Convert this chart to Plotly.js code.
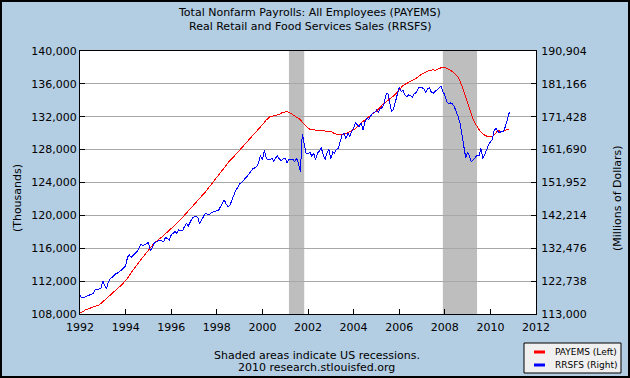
<!DOCTYPE html>
<html>
<head>
<meta charset="utf-8">
<script src="https://cdn.plot.ly/plotly-3.0.1.min.js"></script>
<style>
html,body{margin:0;padding:0;background:#b3cde3;}
#wrap{position:relative;width:630px;height:378px;}
#chart{width:630px;height:378px;}
#frame{position:absolute;left:0;top:0;width:626px;height:374px;border:2px solid #000;pointer-events:none;}
.scatterlayer path.js-line{shape-rendering:crispEdges;}
</style>
</head>
<body>
<div id="wrap"><div id="chart"></div><div id="frame"></div></div>
<script>
// Monthly data, Jan 1992 .. Nov 2010
const startYear = 1992;
const payems = [
108100,108200,108350,108520,108600,108660,108720,108790,108870,108980,109100,109280,
109480,109700,109900,110100,110300,110500,110700,110900,111100,111350,111550,111800,
112050,112350,112700,113050,113400,113700,114000,114300,114600,114900,115200,115500,
115750,116050,116350,116600,116800,116950,117150,117350,117550,117750,117950,118150,
118350,118550,118800,119000,119250,119500,119750,120000,120250,120500,120800,121100,
121300,121500,121750,122000,122250,122550,122850,123150,123450,123750,124050,124350,
124650,124900,125200,125550,125850,126150,126450,126700,126900,127150,127400,127700,
128000,128250,128500,128750,129000,129250,129500,129750,129950,130200,130450,130750,
131050,131300,131600,131850,132000,132050,132100,132150,132200,132300,132450,132550,
132600,132600,132550,132400,132250,132100,131950,131850,131650,131350,131050,130800,
130600,130480,130430,130400,130380,130350,130320,130300,130280,130300,130250,130200,
130200,130100,129950,129900,129880,129860,129850,129880,129950,130050,130150,130250,
130400,130550,130800,131050,131300,131450,131600,131800,132000,132250,132400,132550,
132700,132900,133100,133400,133600,133800,134050,134250,134350,134500,134800,135050,
135300,135550,135800,135950,136050,136150,136300,136450,136550,136650,136850,137050,
137200,137300,137450,137550,137650,137700,137700,137650,137750,137850,137950,138050,
138000,137900,137800,137650,137500,137300,137100,136800,136350,135800,135100,134400,
133650,132950,132250,131600,131200,130750,130450,130150,129900,129750,129650,129580,
129600,129580,129750,130050,130350,130200,130150,130250,130350,130450,130550
];
const rrsfs = [
118500,117700,117900,118100,118300,118600,118700,119100,120300,120300,120400,120700,
122700,121500,120400,122600,123500,123900,124600,125000,125200,125600,126100,126700,
127200,129900,130500,129800,130300,130900,131500,132400,133600,133300,133500,133800,
134200,131800,132500,133900,134300,134600,134900,134700,134400,135700,135300,134900,
136400,137000,137400,136900,137900,137800,137700,138900,139800,139100,140300,141300,
141800,141900,141600,139700,140800,142000,142900,142500,142400,143000,143200,143300,
143500,143800,144800,145800,146800,145500,144800,145300,146800,147800,149700,150400,
151600,151900,152700,153200,153700,154700,155300,156000,156300,156600,157700,159900,
158600,161600,159300,158600,158700,159100,158300,159300,159800,158800,158400,159000,
159100,157700,158900,158800,158800,158200,159100,157600,155200,166400,163300,160600,
160400,161000,159700,160600,158800,160600,161300,162300,160100,158800,160600,161800,
158900,161000,160600,161800,162100,164000,166000,166600,165000,166500,165600,167000,
168000,169900,169000,168500,169500,167500,170000,170900,170700,171700,172500,172600,
173400,172700,173700,174100,175000,177900,178500,175800,172900,173600,175900,177800,
180300,178900,179300,177900,177400,177900,177700,177200,178400,178500,179900,180200,
180000,179800,178600,179700,180100,178600,178400,178900,179400,180000,180500,178900,
177900,175900,175400,175500,175300,174400,173000,171500,169500,166000,162500,159300,
160800,159700,158000,158600,159200,160000,159800,162200,159000,160600,161600,163100,
163800,164800,167400,168000,167000,166700,167200,167200,168700,171000,172800
];
const recessionStarts = ['2001-03-01', '2007-12-01'];
const recessionEnds   = ['2001-11-01', '2009-06-01'];
const titleLines = ['Total Nonfarm Payrolls: All Employees (PAYEMS)', 'Real Retail and Food Services Sales (RRSFS)'];
const legendLabels = ['PAYEMS (Left)', 'RRSFS (Right)'];
const seriesColors = ['#ff0000', '#0000ff'];

function monthDates(n) {
  const out = [];
  for (let i = 0; i < n; i++) {
    const y = startYear + Math.floor(i / 12);
    const m = (i % 12) + 1;
    out.push(y + '-' + (m < 10 ? '0' + m : m) + '-01');
  }
  return out;
}
const dates = monthDates(payems.length);

const FONT = 'DejaVu Sans, Verdana, sans-serif';

const traces = [
  {x: dates, y: payems, type: 'scatter', mode: 'lines', yaxis: 'y',
   line: {color: seriesColors[0], width: 1}, showlegend: false, hoverinfo: 'skip'},
  {x: dates, y: rrsfs, type: 'scatter', mode: 'lines', yaxis: 'y2',
   line: {color: seriesColors[1], width: 1}, showlegend: false, hoverinfo: 'skip'}
];

const shapes = recessionStarts.map((s, i) => ({
  type: 'rect', xref: 'x', yref: 'paper', x0: s, x1: recessionEnds[i], y0: 0, y1: 1,
  fillcolor: '#bebebe', line: {width: 0}, layer: 'below'
}));
// legend box
shapes.push({type: 'rect', xref: 'paper', yref: 'paper', x0: 0.9737, x1: 1.1864, y0: -0.2243, y1: -0.1103,
  fillcolor: '#f0f0f0', line: {color: '#000', width: 1}});
shapes.push({type: 'line', xref: 'paper', yref: 'paper', x0: 0.9956, x1: 1.0197, y0: -0.1445, y1: -0.1445,
  line: {color: seriesColors[0], width: 3}});
shapes.push({type: 'line', xref: 'paper', yref: 'paper', x0: 0.9956, x1: 1.0197, y0: -0.1939, y1: -0.1939,
  line: {color: seriesColors[1], width: 3}});

const annotations = [
  {text: titleLines[0], xref: 'paper', yref: 'paper', x: 0.504, y: 1.1445, showarrow: false,
   font: {family: FONT, size: 11, color: '#000'}, xanchor: 'center', yanchor: 'middle'},
  {text: titleLines[1], xref: 'paper', yref: 'paper', x: 0.504, y: 1.0913, showarrow: false,
   font: {family: FONT, size: 11, color: '#000'}, xanchor: 'center', yanchor: 'middle'},
  {text: '(Thousands)', xref: 'paper', yref: 'paper', x: -0.138, y: 0.441, showarrow: false, textangle: -90,
   font: {family: FONT, size: 11, color: '#000'}, xanchor: 'center', yanchor: 'middle'},
  {text: '(Millions of Dollars)', xref: 'paper', yref: 'paper', x: 1.1776, y: 0.441, showarrow: false, textangle: -90,
   font: {family: FONT, size: 11, color: '#000'}, xanchor: 'center', yanchor: 'middle'},
  {text: 'Shaded areas indicate US recessions.', xref: 'paper', yref: 'paper', x: 0.5197, y: -0.156, showarrow: false,
   font: {family: FONT, size: 11, color: '#000'}, xanchor: 'center', yanchor: 'middle'},
  {text: '2010 research.stlouisfed.org', xref: 'paper', yref: 'paper', x: 0.5197, y: -0.205, showarrow: false,
   font: {family: FONT, size: 11, color: '#000'}, xanchor: 'center', yanchor: 'middle'},
  {text: legendLabels[0], xref: 'paper', yref: 'paper', x: 1.0373, y: -0.1445, showarrow: false,
   font: {family: FONT, size: 9, color: '#000'}, xanchor: 'left', yanchor: 'middle'},
  {text: legendLabels[1], xref: 'paper', yref: 'paper', x: 1.0373, y: -0.1939, showarrow: false,
   font: {family: FONT, size: 9, color: '#000'}, xanchor: 'left', yanchor: 'middle'}
];

const tickFont = {family: FONT, size: 11, color: '#000'};
const layout = {
  width: 630, height: 378,
  paper_bgcolor: '#b3cde3', plot_bgcolor: '#ffffff',
  margin: {l: 80, r: 94, t: 51, b: 64, pad: 0},
  showlegend: false,
  xaxis: {type: 'date', range: ['1992-01-01', '2012-01-01'], tick0: '1992-01-01', dtick: 'M24',
    tickformat: '%Y', ticks: 'inside', ticklen: 5, tickcolor: '#000', showline: true, linecolor: '#000',
    linewidth: 1, mirror: true, showgrid: false, zeroline: false, tickfont: tickFont, ticklabelstandoff: 3},
  yaxis: {range: [108000, 140000], tick0: 108000, dtick: 4000, tickformat: ',d', ticks: 'inside', ticklen: 5,
    tickcolor: '#000', showline: true, linecolor: '#000', linewidth: 1, showgrid: true, gridcolor: '#a8a8a8',
    gridwidth: 1, zeroline: false, tickfont: tickFont},
  yaxis2: {range: [113000, 190904], tick0: 113000, dtick: 9738, tickformat: ',d', overlaying: 'y', side: 'right',
    ticks: 'inside', ticklen: 5, tickcolor: '#000', showline: true, linecolor: '#000', linewidth: 1,
    showgrid: false, zeroline: false, tickfont: tickFont, ticklabelstandoff: 2},
  shapes: shapes,
  annotations: annotations
};

Plotly.newPlot('chart', traces, layout, {staticPlot: true, displayModeBar: false});
</script>
</body>
</html>
